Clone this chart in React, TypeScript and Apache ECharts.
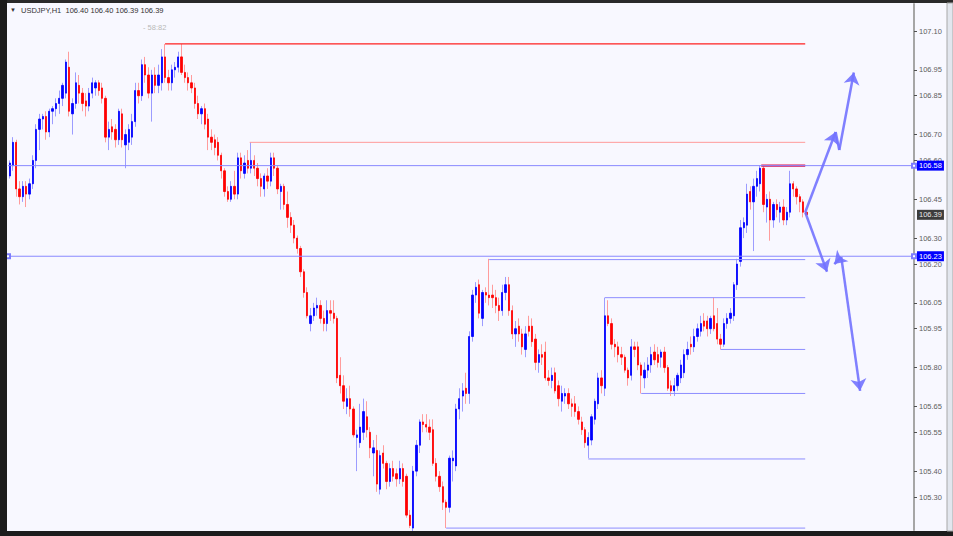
import React, { useEffect, useRef } from "react";
import * as echarts from "echarts";

// ---- candle data (USDJPY, H1) ----
const opens = [
  106.54,106.58,106.67,106.49,106.46,106.50,106.47,106.51,106.60,106.72,
  106.76,106.77,106.71,106.79,106.80,106.82,106.84,106.86,106.96,106.78,
  106.82,106.89,106.86,106.83,106.81,106.86,106.88,106.90,106.88,106.84,
  106.69,106.73,106.72,106.68,106.78,106.66,106.67,106.69,106.75,106.87,
  106.85,106.97,106.93,106.86,106.93,106.89,106.90,107.00,106.92,106.90,
  106.95,106.96,107.00,106.94,106.92,106.90,106.88,106.82,106.78,106.80,
  106.76,106.69,106.68,106.67,106.62,106.56,106.48,106.45,106.50,106.47,
  106.61,106.55,106.60,106.57,106.60,106.57,106.53,106.49,106.54,106.52,
  106.61,106.57,106.48,106.50,106.43,106.38,106.35,106.30,106.26,106.17,
  106.09,105.97,106.00,106.03,106.04,105.99,105.97,106.02,106.01,105.99,
  105.77,105.73,105.65,105.68,105.64,105.53,105.51,105.55,105.61,105.55,
  105.47,105.48,105.33,105.47,105.43,105.36,105.41,105.39,105.37,105.41,
  105.38,105.23,105.18,105.40,105.50,105.59,105.58,105.57,105.56,105.43,
  105.38,105.34,105.28,105.26,105.44,105.42,105.64,105.69,105.72,105.70,
  105.92,106.08,106.12,105.99,106.09,106.08,106.08,106.07,106.04,106.02,
  106.09,106.12,106.02,105.93,105.96,105.93,105.87,105.96,105.96,105.91,
  105.82,105.85,105.86,105.76,105.75,105.78,105.73,105.67,105.69,105.70,
  105.66,105.66,105.63,105.59,105.56,105.50,105.52,105.60,105.66,105.76,
  105.72,106.00,105.97,105.89,105.88,105.85,105.84,105.79,105.77,105.88,
  105.88,105.81,105.76,105.79,105.81,105.86,105.85,105.84,105.86,105.80,
  105.73,105.71,105.73,105.76,105.78,105.85,105.89,105.88,105.92,105.94,
  105.98,105.98,105.95,106.00,105.97,105.91,105.89,105.97,105.99,106.00,
  106.12,106.21,106.34,106.35,106.48,106.44,106.50,106.51,106.57,106.42,
  106.45,106.37,106.43,106.40,106.42,106.37,106.40,106.51,106.49,106.46,
  106.44,106.40,
];
const highs = [
  106.60,106.69,106.68,106.52,106.52,106.52,106.53,106.62,106.74,106.78,
  106.78,106.79,106.80,106.81,106.84,106.87,106.90,106.99,107.02,106.84,
  106.94,106.93,106.88,106.86,106.88,106.92,106.91,106.91,106.90,106.85,
  106.75,106.76,106.74,106.80,106.80,106.72,106.74,106.78,106.90,106.90,
  106.99,107.00,106.96,106.95,106.96,106.97,107.03,107.05,106.95,106.97,
  106.98,107.02,107.05,106.97,106.94,106.93,106.90,106.85,106.81,106.82,
  106.78,106.72,106.70,106.69,106.63,106.57,106.50,106.52,106.56,106.63,
  106.63,106.62,106.64,106.67,106.62,106.59,106.55,106.55,106.57,106.63,
  106.63,106.58,106.51,106.51,106.48,106.40,106.37,106.31,106.27,106.18,
  106.11,106.03,106.05,106.07,106.06,106.02,106.06,106.06,106.06,106.00,
  105.84,105.77,105.72,105.73,105.65,105.56,105.66,105.68,105.67,105.57,
  105.52,105.54,105.48,105.50,105.44,105.43,105.44,105.41,105.44,105.43,
  105.39,105.25,105.42,105.52,105.60,105.62,105.62,105.60,105.60,105.45,
  105.40,105.36,105.29,105.46,105.48,105.66,105.72,105.74,105.78,105.94,
  106.10,106.13,106.14,106.10,106.11,106.22,106.12,106.10,106.07,106.12,
  106.15,106.15,106.04,105.98,105.99,105.95,105.96,106.00,105.99,105.93,
  105.87,105.89,105.90,105.79,105.80,105.80,105.75,105.73,105.72,105.72,
  105.68,105.69,105.65,105.61,105.57,105.55,105.62,105.68,105.78,105.79,
  106.07,106.06,105.99,105.91,105.90,105.88,105.85,105.80,105.91,105.90,
  105.90,105.82,105.82,105.84,105.88,105.89,105.88,105.87,105.88,105.81,
  105.75,105.76,105.78,105.83,105.87,105.90,105.92,105.95,105.97,106.00,
  106.01,106.00,106.00,106.07,106.03,105.93,105.99,106.01,106.03,106.13,
  106.22,106.37,106.38,106.51,106.50,106.53,106.56,106.58,106.58,106.47,
  106.48,106.44,106.45,106.44,106.45,106.42,106.56,106.52,106.50,106.47,
  106.45,106.40,
];
const lows = [
  106.53,106.56,106.46,106.43,106.44,106.42,106.45,106.49,106.57,106.64,
  106.72,106.68,106.69,106.74,106.77,106.78,106.81,106.84,106.77,106.70,
  106.80,106.82,106.79,106.77,106.79,106.84,106.85,106.85,106.82,106.67,
  106.64,106.68,106.65,106.66,106.65,106.57,106.64,106.66,106.73,106.82,
  106.83,106.90,106.84,106.75,106.86,106.86,106.87,106.90,106.87,106.87,
  106.92,106.94,106.93,106.90,106.87,106.86,106.80,106.76,106.74,106.72,
  106.64,106.64,106.62,106.60,106.53,106.46,106.44,106.44,106.45,106.45,
  106.53,106.53,106.55,106.55,106.54,106.50,106.46,106.46,106.49,106.50,
  106.54,106.47,106.41,106.41,106.34,106.32,106.28,106.24,106.15,106.07,
  105.99,105.94,105.98,106.00,105.97,105.94,105.94,105.98,105.97,105.74,
  105.70,105.64,105.62,105.61,105.53,105.40,105.49,105.52,105.53,105.45,
  105.38,105.32,105.31,105.41,105.33,105.34,105.36,105.34,105.35,105.34,
  105.22,105.18,105.16,105.38,105.47,105.55,105.55,105.52,105.42,105.36,
  105.32,105.25,105.18,105.24,105.36,105.40,105.60,105.63,105.66,105.66,
  105.90,106.05,105.99,105.96,106.05,106.04,106.03,106.01,105.98,106.00,
  106.06,106.00,105.91,105.88,105.90,105.85,105.84,105.92,105.88,105.79,
  105.78,105.81,105.75,105.73,105.72,105.70,105.65,105.63,105.66,105.64,
  105.61,105.61,105.58,105.54,105.49,105.45,105.50,105.58,105.64,105.70,
  105.69,105.96,105.87,105.84,105.82,105.81,105.78,105.73,105.75,105.84,
  105.79,105.70,105.72,105.76,105.78,105.81,105.80,105.80,105.78,105.71,
  105.69,105.69,105.71,105.74,105.76,105.83,105.85,105.86,105.90,105.92,
  105.94,105.92,105.93,105.94,105.89,105.87,105.88,105.95,105.97,105.98,
  106.10,106.19,106.30,106.32,106.41,106.25,106.46,106.48,106.40,106.36,
  106.29,106.34,106.38,106.36,106.35,106.35,106.38,106.46,106.43,106.40,
  106.38,106.39,
];
const closes = [
  106.59,106.67,106.49,106.46,106.50,106.47,106.51,106.60,106.72,106.76,
  106.77,106.71,106.79,106.80,106.82,106.84,106.89,106.98,106.79,106.82,
  106.90,106.86,106.82,106.81,106.86,106.90,106.90,106.87,106.84,106.69,
  106.72,106.71,106.68,106.79,106.68,106.70,106.72,106.75,106.87,106.85,
  106.97,106.93,106.86,106.93,106.89,106.93,107.00,106.92,106.90,106.95,
  106.96,107.00,106.94,106.92,106.90,106.88,106.82,106.78,106.80,106.74,
  106.69,106.67,106.65,106.62,106.56,106.48,106.45,106.50,106.47,106.61,
  106.56,106.59,106.57,106.60,106.57,106.53,106.50,106.54,106.52,106.61,
  106.57,106.49,106.50,106.43,106.38,106.35,106.30,106.26,106.17,106.09,
  106.00,106.00,106.03,106.04,105.99,105.97,106.02,106.01,105.99,105.76,
  105.73,105.67,105.68,105.64,105.54,105.54,105.57,105.63,105.56,105.49,
  105.49,105.35,105.46,105.43,105.36,105.41,105.38,105.37,105.41,105.36,
  105.23,105.19,105.40,105.50,105.59,105.58,105.57,105.55,105.43,105.38,
  105.34,105.28,105.26,105.45,105.45,105.64,105.68,105.71,105.70,105.92,
  106.08,106.11,106.01,106.09,106.08,106.07,106.07,106.04,106.02,106.09,
  106.12,106.02,105.93,105.95,105.93,105.88,105.93,105.94,105.90,105.82,
  105.85,105.84,105.76,105.75,105.77,105.71,105.68,105.70,105.70,105.66,
  105.65,105.63,105.60,105.56,105.51,105.53,105.61,105.67,105.76,105.73,
  106.00,105.97,105.89,105.88,105.85,105.84,105.79,105.76,105.88,105.87,
  105.81,105.77,105.79,105.81,105.85,105.83,105.82,105.86,105.80,105.72,
  105.71,105.73,105.77,105.81,105.85,105.87,105.88,105.92,105.95,105.97,
  105.96,105.95,105.99,105.95,105.91,105.89,105.97,105.99,106.01,106.12,
  106.20,106.34,106.36,106.47,106.44,106.50,106.53,106.57,106.43,106.45,
  106.37,106.43,106.41,106.42,106.37,106.40,106.51,106.49,106.46,106.44,
  106.40,106.39,
];

// right price scale labels
const priceTicks = [107.10, 106.95, 106.85, 106.70, 106.60, 106.45, 106.30, 106.20, 106.05, 105.95, 105.80, 105.65, 105.55, 105.40, 105.30];
const axisMin = 105.1726;
const axisMax = 107.2043;
const slotCount = 274; // bars + chart shift space

// horizontal level objects: price and the bar index they begin at (all end at the last bar)
const levelPrices = [107.05, 106.67, 106.58, 106.217, 106.07, 105.87, 105.70, 105.447, 105.18];
const levelStarts = [47, 72.6, 227.3, 145, 180, 215, 191, 175, 132];
const levelEnd = 240.6;
// full-width horizontal lines with price tags
const fullLines = [106.58, 106.23];
const lastPrice = 106.39;

// projection arrows: [bar index, price] pairs, with whether the segment ends in an arrowhead
const arrowSegments: [number[], number[], boolean][] = [
  [[240.6, 106.40], [249.8, 106.71], true],
  [[249.8, 106.71], [250.9, 106.64], false],
  [[250.9, 106.64], [255.3, 106.94], true],
  [[240.6, 106.40], [247.2, 106.17], true],
  [[251.5, 106.227], [249.4, 106.20], true],
  [[251.5, 106.227], [257.2, 105.71], true],
];

const FONT = "'Liberation Sans', Arial, sans-serif";

function levelStyle(i: number) {
  if (i === 0) return { color: "#ff2020", width: 1.3 };
  if (i === 1) return { color: "#ff9a9a", width: 1 };
  if (i === 2) return { color: "#dc1048", width: 2.2 };
  return { color: "#8e8eff", width: 1 };
}

export default function App() {
  const ref = useRef<HTMLDivElement>(null);
  useEffect(() => {
    if (!ref.current) return;
    const chart = echarts.init(ref.current, null, { renderer: "svg" });
    const n = opens.length;
    const slots = Array.from({ length: slotCount }, (_, i) => String(i));
    const wickData = opens.map((o, i) => [o, closes[i], lows[i], highs[i]]);
    const bodyData = opens.map((o, i) => [o, closes[i], Math.min(o, closes[i]), Math.max(o, closes[i])]);

    const levelSeries = levelPrices.map((p, i) => ({
      type: "line",
      xAxisIndex: 1,
      data: [[levelStarts[i], p], [levelEnd, p]],
      symbol: "none",
      silent: true,
      lineStyle: levelStyle(i),
      z: 3,
    }));

    const fullSeries = fullLines.map((p, i) => ({
      type: "line",
      xAxisIndex: 1,
      clip: false,
      data: [
        { value: [-0.5, p], symbol: i === 1 ? "emptyRect" : "none" },
        { value: [slotCount - 0.5, p], symbol: "emptyRect" },
      ],
      symbol: "emptyRect",
      symbolSize: 4,
      showSymbol: true,
      silent: true,
      itemStyle: { color: "#7c7cff", borderColor: "#6a6aff", borderWidth: 1 },
      lineStyle: { color: "#8a8aff", width: 1 },
      z: 3,
    }));

    const tagLabel = (bg: string, fg: string) => ({
      show: true,
      position: "end",
      distance: 3,
      formatter: (p: any) => Number(p.value).toFixed(2),
      backgroundColor: bg,
      color: fg,
      fontSize: 7.5,
      fontFamily: FONT,
      padding: [1, 2, 1, 2],
    });

    const option: any = {
      animation: false,
      backgroundColor: "#f8f8ff",
      grid: { left: 8, right: 39, top: 4, bottom: 6 },
      xAxis: [
        { type: "category", data: slots, boundaryGap: true, show: false },
        { type: "value", min: -0.5, max: slotCount - 0.5, show: false },
      ],
      yAxis: {
        type: "value",
        position: "right",
        min: axisMin,
        max: axisMax,
        splitLine: { show: false },
        axisLine: { show: true, onZero: false, lineStyle: { color: "#a6a6a6", width: 2 } },
        axisTick: { show: true, inside: false, customValues: priceTicks, length: 3, lineStyle: { color: "#505050" } },
        axisLabel: {
          customValues: priceTicks,
          formatter: (v: number) => v.toFixed(2),
          fontSize: 7.5,
          fontFamily: FONT,
          color: "#5e5e5e",
          margin: 5,
        },
      },
      series: [
        {
          type: "candlestick",
          data: wickData,
          barWidth: 1,
          silent: true,
          itemStyle: { color: "#9c9cff", color0: "#ff9c9c", borderColor: "#9c9cff", borderColor0: "#ff9c9c", borderWidth: 1 },
        },
        {
          type: "candlestick",
          data: bodyData,
          barWidth: 1.8,
          silent: true,
          itemStyle: { color: "#0000ff", color0: "#ff0000", borderColor: "#0000ff", borderColor0: "#ff0000", borderWidth: 0.8 },
          z: 2,
        },
        ...levelSeries,
        ...fullSeries,
        {
          type: "line",
          xAxisIndex: 1,
          data: [[levelEnd, lastPrice]],
          symbol: "none",
          lineStyle: { opacity: 0 },
          silent: true,
          z: 6,
          markLine: {
            silent: true,
            animation: false,
            symbol: ["none", "none"],
            data: [
              { yAxis: fullLines[0], lineStyle: { color: "transparent", width: 0 }, label: tagLabel("#0000ff", "#ffffff") },
              { yAxis: fullLines[1], lineStyle: { color: "transparent", width: 0 }, label: tagLabel("#0000ff", "#ffffff") },
              { yAxis: lastPrice, lineStyle: { color: "transparent", width: 0 }, label: tagLabel("#3c3c3c", "#e8e8e8") },
            ],
          },
        },
        {
          type: "line",
          xAxisIndex: 1,
          data: [[levelEnd, lastPrice]],
          symbol: "none",
          lineStyle: { opacity: 0 },
          silent: true,
          z: 7,
          markLine: {
            silent: true,
            animation: false,
            symbolSize: 12,
            label: { show: false },
            lineStyle: { color: "#7272ff", width: 2.5, type: "solid", opacity: 0.9 },
            data: arrowSegments.map(([a, b, head]) => [
              { coord: a, symbol: "none" },
              { coord: b, symbol: head ? "arrow" : "none" },
            ]),
          },
        },
      ],
      graphic: [
        { type: "rect", shape: { x: 0, y: 0, width: 953, height: 3 }, style: { fill: "#2a2a2a" }, z: 100 },
        { type: "rect", shape: { x: 0, y: 0, width: 7, height: 536 }, style: { fill: "#1c1c1c" }, z: 100 },
        { type: "rect", shape: { x: 0, y: 531, width: 953, height: 5 }, style: { fill: "#1c1c1c" }, z: 100 },
        { type: "rect", shape: { x: 947, y: 3, width: 6, height: 528 }, style: { fill: "#e2e6ee", stroke: "#a8a8a8", lineWidth: 1 }, z: 100 },
        { type: "text", x: 10, y: 10, style: { text: "▼", font: `6px ${FONT}`, fill: "#333", verticalAlign: "middle" }, z: 100 },
        {
          type: "text",
          x: 21,
          y: 10,
          style: {
            text: `USDJPY,H1  ${opens[n - 1].toFixed(2)} ${highs[n - 1].toFixed(2)} ${lows[n - 1].toFixed(2)} ${closes[n - 1].toFixed(2)}`,
            font: `7.5px ${FONT}`,
            fill: "#333",
            verticalAlign: "middle",
          },
          z: 100,
        },
        { type: "text", x: 143, y: 27, style: { text: "- 58:82", font: `7.5px ${FONT}`, fill: "#b8b8b8", verticalAlign: "middle" }, z: 100 },
      ],
    };
    chart.setOption(option);
    return () => chart.dispose();
  }, []);
  return <div ref={ref} style={{ position: "fixed", left: 0, top: 0, width: 953, height: 536 }} />;
}
